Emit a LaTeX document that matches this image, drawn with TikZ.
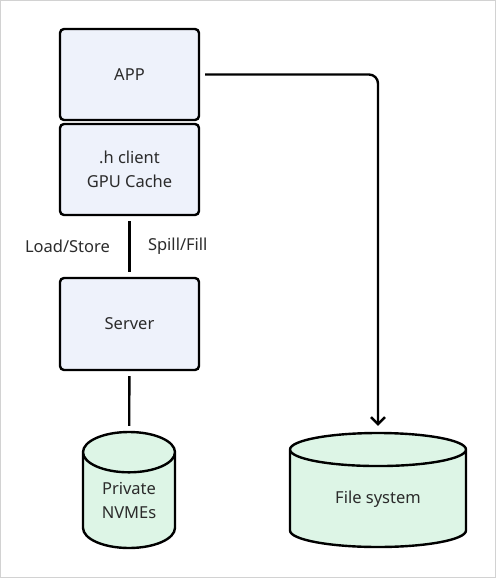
\documentclass[tikz,border=0pt]{standalone}
\usepackage{fontspec}
\setmainfont{Noto Sans}
\usetikzlibrary{arrows.meta,positioning,shapes.geometric}
\definecolor{boxblue}{HTML}{EEF2FB}
\definecolor{diskgreen}{HTML}{DDF5E6}
\definecolor{ink}{HTML}{2B2B2B}
\tikzset{
    block/.style={draw,rounded corners=4pt,line width=2.4pt,fill=boxblue,minimum width=139pt,minimum height=91pt,align=center,inner sep=0pt},
    disk/.style={cylinder,shape border rotate=90,draw,line width=2.4pt,fill=diskgreen,align=center,inner sep=0pt,anchor=shape center},
    link/.style={line width=2.4pt,shorten <=5pt,shorten >=5pt},
    arrow/.style={-{Straight Barb[length=7pt,width=14pt]},line width=2.4pt,rounded corners=9pt}
}

\begin{document}
\begin{tikzpicture}[x=1pt,y=-1pt,every node/.style={font=\fontsize{16.5}{24}\selectfont,text=ink}]
    \useasboundingbox (0,0) rectangle (496,578);
    \draw[gray!35,line width=1pt] (0.5,0.5) rectangle (495.5,577.5);

    % client side stack
    \node[block] (app) at (129.5,74.5) {APP};
    \node[block] (client) at (129.5,169.5) {.h client\\GPU Cache};
    \node[block,minimum height=92pt] (server) at (129.5,324) {Server};

    % storage
    \node[disk,minimum width=92pt,minimum height=116pt,aspect=0.74] (nvme) at (129,490) {Private\\NVMEs};
    \node[disk,minimum width=176pt,minimum height=114pt,aspect=0.386] (fs) at (378,490) {File system};

    % links
    \draw[link] (client) -- node[left=15pt] {Load/Store} node[right=14pt] {Spill/Fill} (server);
    \draw[link] (server) -- (nvme);
    \draw[arrow,shorten <=5pt,shorten >=6pt] (app.east) -| (fs.north);
\end{tikzpicture}
\end{document}
